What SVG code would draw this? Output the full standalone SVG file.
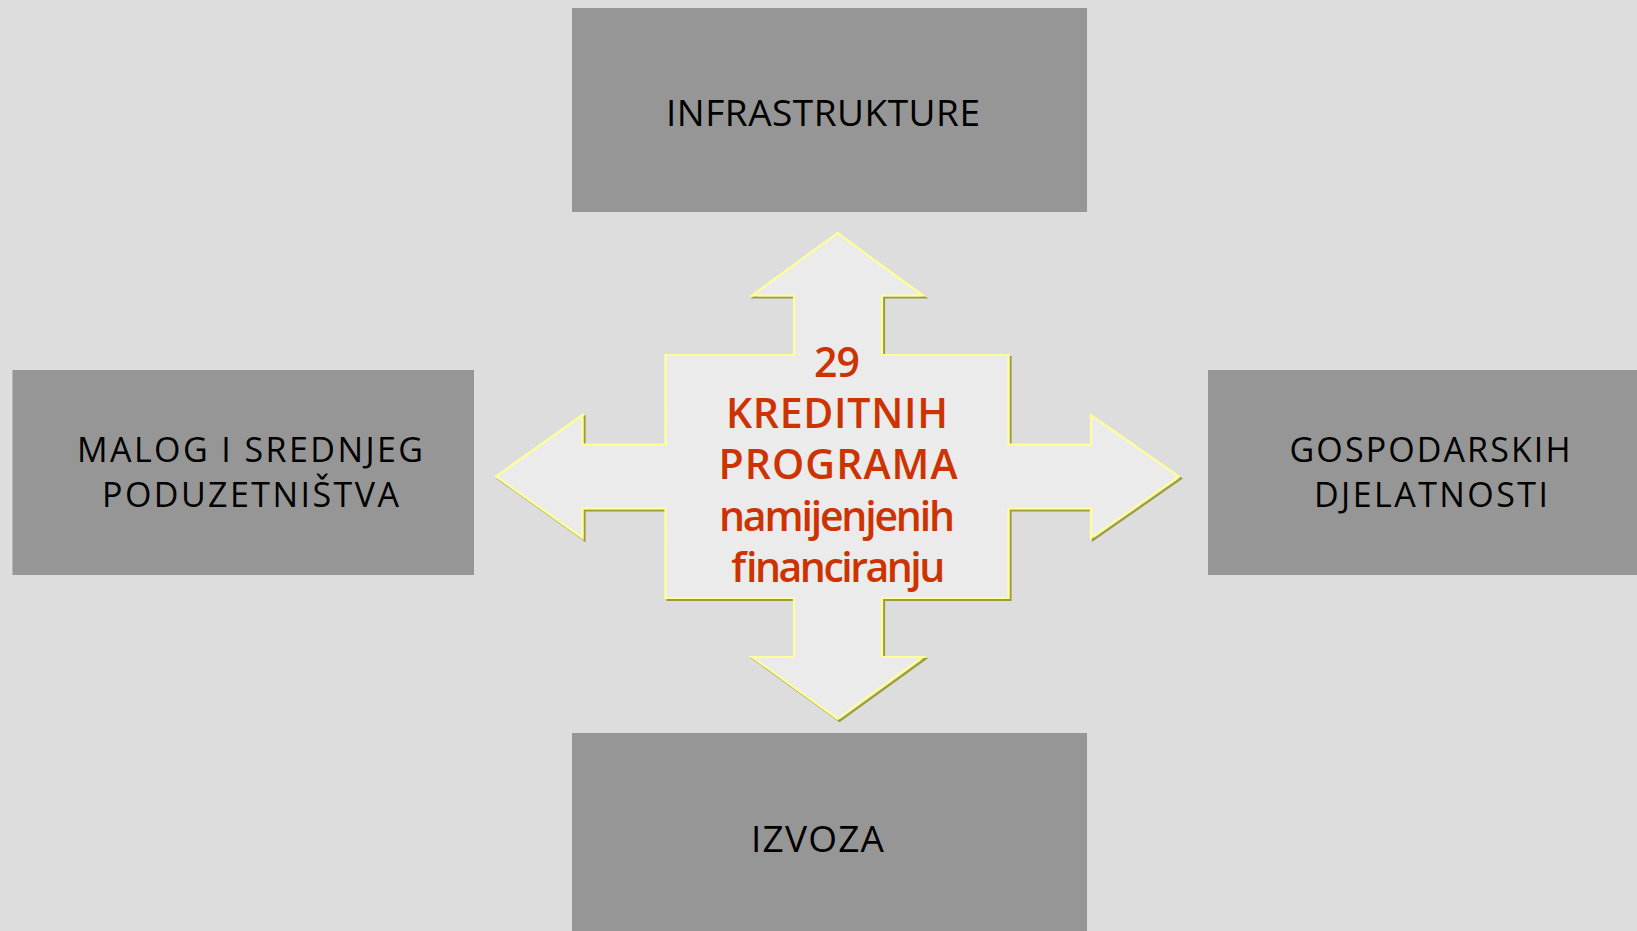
<svg xmlns="http://www.w3.org/2000/svg" width="1637" height="931" viewBox="0 0 1637 931">
  <style>
    .box { fill: #969696; }
    .lbl { font-family: "Open Sans", "Liberation Sans", sans-serif; font-size: 37px; font-weight: 500; fill: #000; text-anchor: middle; }
    .lbl2 { font-size: 34px; }
    .ctr { font-family: "Open Sans", "Liberation Sans", sans-serif; font-size: 41px; font-weight: 600; fill: #cc3300; text-anchor: middle; }
    .arrow { fill: #ebebeb; stroke: #ffff99; stroke-width: 2.2; stroke-linejoin: miter; }
    .shadow { fill: none; stroke: #9c9c40; stroke-width: 2.2; }
  </style>
  <defs>
    <path id="cross" d="M837.5,233 L923,295.5 L882,295.5 L882,355 L1008.5,355 L1008.5,444.7 L1091,444.7 L1091,415 L1179,476.5 L1091,538 L1091,508.4 L1008.5,508.4 L1008.5,598 L882,598 L882,657 L923,657 L837.5,719 L752,657 L794,657 L794,598 L665.5,598 L665.5,508.4 L582.5,508.4 L582.5,538 L496,476.5 L582.5,415 L582.5,444.7 L665.5,444.7 L665.5,355 L794,355 L794,295.5 L752,295.5 Z"/>
  </defs>
  <rect x="0" y="0" width="1637" height="931" fill="#dddddd"/>

  <g id="node-infrastrukture">
    <rect class="box" x="572" y="8" width="515" height="204"/>
    <text class="lbl" x="823" y="126" textLength="314" lengthAdjust="spacing">INFRASTRUKTURE</text>
  </g>

  <g id="node-malog">
    <rect class="box" x="12.5" y="370" width="461.5" height="205"/>
    <text class="lbl lbl2" x="250" y="461.5" textLength="346" lengthAdjust="spacing">MALOG I SREDNJEG</text>
    <text class="lbl lbl2" x="250.5" y="506.5" textLength="297" lengthAdjust="spacing">PODUZETNIŠTVA</text>
  </g>

  <g id="node-gospodarskih">
    <rect class="box" x="1208" y="370" width="429" height="205"/>
    <text class="lbl lbl2" x="1430" y="461.5" textLength="281" lengthAdjust="spacing">GOSPODARSKIH</text>
    <text class="lbl lbl2" x="1431" y="506.5" textLength="234" lengthAdjust="spacing">DJELATNOSTI</text>
  </g>

  <g id="node-izvoza">
    <rect class="box" x="572" y="733" width="515" height="198"/>
    <text class="lbl" x="817.5" y="852" textLength="133" lengthAdjust="spacing">IZVOZA</text>
  </g>

  <g id="connectors">
    <use href="#cross" class="shadow" transform="translate(2,2)"/>
    <use href="#cross" class="arrow"/>
  </g>

  <g id="node-center">
    <text class="ctr" x="837" y="377" textLength="46" lengthAdjust="spacing">29</text>
    <text class="ctr" x="837" y="428" textLength="222" lengthAdjust="spacing">KREDITNIH</text>
    <text class="ctr" x="838" y="479" textLength="239" lengthAdjust="spacing">PROGRAMA</text>
    <text class="ctr" x="837" y="531" textLength="236" lengthAdjust="spacing">namijenjenih</text>
    <text class="ctr" x="837" y="582" textLength="214" lengthAdjust="spacing">financiranju</text>
  </g>
</svg>
